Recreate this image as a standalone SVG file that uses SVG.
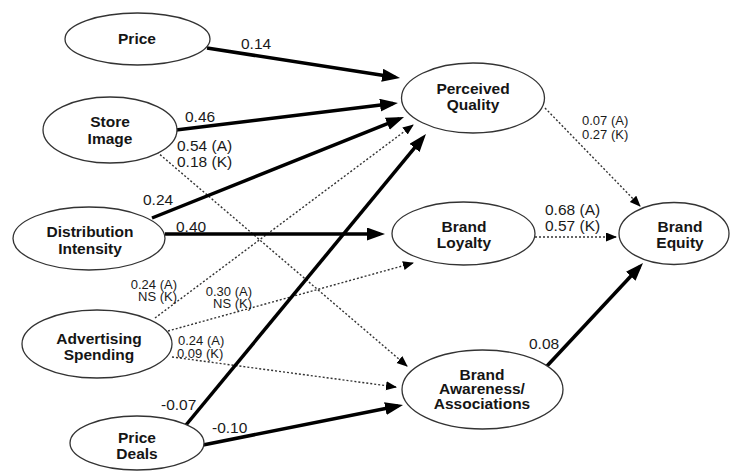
<svg xmlns="http://www.w3.org/2000/svg" width="733" height="471" viewBox="0 0 733 471">
<style>
.node ellipse{fill:#fff;stroke:#333;stroke-width:1.3}
.nt{font-family:"Liberation Sans",Arial,sans-serif;font-weight:bold;font-size:15.5px;fill:#151515;text-anchor:middle}
.lb{font-family:"Liberation Sans",Arial,sans-serif;font-size:15.5px;fill:#1a1a1a}
.sl{font-family:"Liberation Sans",Arial,sans-serif;font-size:13px;fill:#1a1a1a}
.thick{stroke:#000;stroke-width:3.5;fill:none;marker-end:url(#ah)}
.dot{stroke:#333;stroke-width:1.4;fill:none;stroke-dasharray:2 2;marker-end:url(#ad)}
</style>
<defs>
<marker id="ah" markerUnits="userSpaceOnUse" markerWidth="20" markerHeight="14" refX="13" refY="6.5" orient="auto"><path d="M0,0 L18,6.5 L0,13 z" fill="#000"/></marker>
<marker id="ad" markerUnits="userSpaceOnUse" markerWidth="12" markerHeight="10" refX="10" refY="4.5" orient="auto"><path d="M0,0 L11,4.5 L0,9 z" fill="#000"/></marker>
</defs>
<rect width="733" height="471" fill="#fff"/>
<g id="connectors">
<line class="dot" x1="157" y1="152" x2="407" y2="366"/>
<line class="dot" x1="155" y1="318" x2="413" y2="125"/>
<line class="dot" x1="168" y1="331" x2="413" y2="263"/>
<line class="dot" x1="172" y1="357" x2="396" y2="387"/>
<line class="dot" x1="545" y1="108" x2="640" y2="206"/>
<line class="dot" x1="535" y1="237" x2="616" y2="237"/>
<line class="thick" x1="207" y1="48" x2="395.1" y2="77.2"/>
<line class="thick" x1="176" y1="130" x2="393" y2="103.6"/>
<line class="thick" x1="152" y1="218" x2="399.4" y2="118.9"/>
<line class="thick" x1="165" y1="234" x2="380" y2="234"/>
<line class="thick" x1="186" y1="425" x2="422.8" y2="137.9"/>
<line class="thick" x1="203" y1="445" x2="398.1" y2="406"/>
<line class="thick" x1="547" y1="366" x2="639.6" y2="266.7"/>
</g>
<g id="labels">
<text class="lb" x="241" y="49">0.14</text>
<text class="lb" x="185" y="122">0.46</text>
<text class="lb" x="177" y="151">0.54 (A)</text>
<text class="lb" x="177" y="167">0.18 (K)</text>
<text class="lb" x="143" y="205">0.24</text>
<text class="lb" x="176" y="232">0.40</text>
<text class="sl" x="177" y="288.5" text-anchor="end" font-size="12">0.24 (A)</text>
<text class="sl" x="177" y="301" text-anchor="end" font-size="12">NS (K)</text>
<text class="sl" x="252" y="295.5" text-anchor="end" font-size="12.5">0.30 (A)</text>
<text class="sl" x="252" y="308" text-anchor="end" font-size="12.5">NS (K)</text>
<text class="sl" x="178" y="345">0.24 (A)</text>
<text class="sl" x="177" y="358">0.09 (K)</text>
<text class="lb" x="161" y="410">-0.07</text>
<text class="lb" x="212" y="433">-0.10</text>
<text class="sl" x="582" y="125">0.07 (A)</text>
<text class="sl" x="582" y="139">0.27 (K)</text>
<text class="lb" x="545" y="215">0.68 (A)</text>
<text class="lb" x="545" y="231">0.57 (K)</text>
<text class="lb" x="529" y="349">0.08</text>
</g>
<g id="price" class="node"><ellipse cx="137.5" cy="39" rx="72.5" ry="26"/><text class="nt" x="137" y="44">Price</text></g>
<g id="store-image" class="node"><ellipse cx="110" cy="130" rx="67" ry="33"/><text class="nt" x="110" y="127">Store</text><text class="nt" x="110" y="144">Image</text></g>
<g id="distribution-intensity" class="node"><ellipse cx="89" cy="238.5" rx="76" ry="31.5"/><text class="nt" x="90" y="237">Distribution</text><text class="nt" x="90" y="254">Intensity</text></g>
<g id="advertising-spending" class="node"><ellipse cx="97" cy="344" rx="75" ry="34"/><text class="nt" x="99" y="344">Advertising</text><text class="nt" x="99" y="360">Spending</text></g>
<g id="price-deals" class="node"><ellipse cx="137" cy="443" rx="67" ry="27"/><text class="nt" x="137" y="443">Price</text><text class="nt" x="137" y="459">Deals</text></g>
<g id="perceived-quality" class="node"><ellipse cx="473" cy="98" rx="71.5" ry="35"/><text class="nt" x="473" y="94">Perceived</text><text class="nt" x="473" y="110">Quality</text></g>
<g id="brand-loyalty" class="node"><ellipse cx="463.5" cy="233.5" rx="71.5" ry="31.5"/><text class="nt" x="464" y="232">Brand</text><text class="nt" x="464" y="248">Loyalty</text></g>
<g id="brand-equity" class="node"><ellipse cx="674" cy="233.5" rx="55" ry="31"/><text class="nt" x="680" y="232">Brand</text><text class="nt" x="680" y="248">Equity</text></g>
<g id="brand-awareness" class="node"><ellipse cx="482.5" cy="389.5" rx="80.5" ry="39.5"/><text class="nt" x="482" y="379.5" font-size="15">Brand</text><text class="nt" x="482" y="394" font-size="15">Awareness/</text><text class="nt" x="482" y="408.5" font-size="15">Associations</text></g>
</svg>
